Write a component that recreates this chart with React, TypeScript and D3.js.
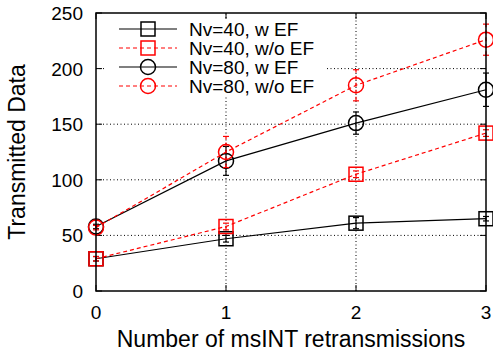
import * as d3 from "d3";

const retransmissions = [0, 1, 2, 3];
const yTicks = [0, 50, 100, 150, 200, 250];

const nv40wEF = [29, 47, 61, 65];
const nv40wEFErr = [2, 3, 5, 2];
const nv40woEF = [29, 58, 105, 142];
const nv40woEFErr = [2, 3, 3, 3];
const nv80wEF = [58, 117, 151, 181];
const nv80wEFErr = [2, 13, 10, 15];
const nv80woEF = [57, 125, 185, 226];
const nv80woEFErr = [2, 14, 14, 14];

type Series = {
  name: string;
  values: number[];
  errors: number[];
  color: string;
  dashed: boolean;
  marker: "square" | "circle";
};

const series: Series[] = [
  { name: "Nv=40, w EF", values: nv40wEF, errors: nv40wEFErr, color: "#000", dashed: false, marker: "square" },
  { name: "Nv=40, w/o EF", values: nv40woEF, errors: nv40woEFErr, color: "#ff0000", dashed: true, marker: "square" },
  { name: "Nv=80, w EF", values: nv80wEF, errors: nv80wEFErr, color: "#000", dashed: false, marker: "circle" },
  { name: "Nv=80, w/o EF", values: nv80woEF, errors: nv80woEFErr, color: "#ff0000", dashed: true, marker: "circle" },
];

const W = 493;
const H = 354;
const margin = { top: 13, right: 7, bottom: 63, left: 96 };
const font = "'Liberation Sans', Arial, Helvetica, sans-serif";

function Marker({ kind, x, y, color }: { kind: string; x: number; y: number; color: string }) {
  if (kind === "square") {
    return <rect x={x - 7} y={y - 7} width={14} height={14} fill="none" stroke={color} strokeWidth={1.5} />;
  }
  return <circle cx={x} cy={y} r={7.5} fill="none" stroke={color} strokeWidth={1.5} />;
}

export default function App() {
  const x = d3.scaleLinear().domain([0, 3]).range([margin.left, W - margin.right]);
  const y = d3.scaleLinear().domain([0, 250]).range([H - margin.bottom, margin.top]);
  const line = d3.line<number>().x((_, i) => x(retransmissions[i])).y((d) => y(d));

  const x0 = x.range()[0];
  const x1 = x.range()[1];
  const yb = y.range()[0];
  const yt = y.range()[1];

  const legendX = 119;
  const legendY = 29;
  const legendStep = 19;

  return (
    <svg width={W} height={H} style={{ position: "absolute", left: 0, top: 0, background: "#fff" }} fontFamily={font}>
      {/* grid */}
      {yTicks.slice(1, -1).map((t) => (
        <line key={"gy" + t} x1={x0} x2={x1} y1={y(t)} y2={y(t)} stroke="#000" strokeWidth={1} strokeDasharray="1,2.5" />
      ))}
      {retransmissions.slice(1, -1).map((t) => (
        <line key={"gx" + t} x1={x(t)} x2={x(t)} y1={yb} y2={yt} stroke="#000" strokeWidth={1} strokeDasharray="1,2.5" />
      ))}

      {/* legend background */}
      <rect x={104} y={18} width={222} height={78} fill="#fff" />

      {/* ticks */}
      {yTicks.map((t) => (
        <g key={"ty" + t}>
          <line x1={x0} x2={x0 + 6} y1={y(t)} y2={y(t)} stroke="#000" />
          <line x1={x1} x2={x1 - 6} y1={y(t)} y2={y(t)} stroke="#000" />
          <text x={x0 - 13} y={y(t) + 7} textAnchor="end" fontSize={19}>{t}</text>
        </g>
      ))}
      {retransmissions.map((t) => (
        <g key={"tx" + t}>
          <line x1={x(t)} x2={x(t)} y1={yb} y2={yb - 6} stroke="#000" />
          <line x1={x(t)} x2={x(t)} y1={yt} y2={yt + 6} stroke="#000" />
          <text x={x(t)} y={yb + 28} textAnchor="middle" fontSize={19}>{t}</text>
        </g>
      ))}

      {/* series */}
      {series.map((s) => (
        <g key={s.name}>
          <path
            d={line(s.values) ?? ""}
            fill="none"
            stroke={s.color}
            strokeWidth={1.2}
            strokeDasharray={s.dashed ? "4,3" : undefined}
          />
          {s.values.map((v, i) => {
            const cx = x(retransmissions[i]);
            const lo = y(v - s.errors[i]);
            const hi = y(v + s.errors[i]);
            return (
              <g key={i}>
                <line x1={cx} x2={cx} y1={lo} y2={hi} stroke={s.color} strokeWidth={1.2} strokeDasharray={s.dashed ? "4,3" : undefined} />
                <line x1={cx - 3} x2={cx + 3} y1={lo} y2={lo} stroke={s.color} strokeWidth={1.2} />
                <line x1={cx - 3} x2={cx + 3} y1={hi} y2={hi} stroke={s.color} strokeWidth={1.2} />
                <Marker kind={s.marker} x={cx} y={y(v)} color={s.color} />
              </g>
            );
          })}
        </g>
      ))}

      {/* frame */}
      <rect x={x0} y={yt} width={x1 - x0} height={yb - yt} fill="none" stroke="#000" strokeWidth={1.5} />

      {/* legend */}
      {series.map((s, i) => {
        const ly = legendY + i * legendStep;
        return (
          <g key={"lg" + s.name}>
            <line x1={legendX} x2={legendX + 58} y1={ly} y2={ly} stroke={s.color} strokeWidth={1.2} strokeDasharray={s.dashed ? "4,3" : undefined} />
            <Marker kind={s.marker} x={legendX + 29} y={ly} color={s.color} />
            <text x={189} y={ly + 7} fontSize={19}>{s.name}</text>
          </g>
        );
      })}

      {/* axis titles */}
      <text x={(x0 + x1) / 2} y={347} textAnchor="middle" fontSize={23}>Number of msINT retransmissions</text>
      <text transform={`translate(25, ${(yt + yb) / 2}) rotate(-90)`} textAnchor="middle" fontSize={23}>Transmitted Data</text>
    </svg>
  );
}
